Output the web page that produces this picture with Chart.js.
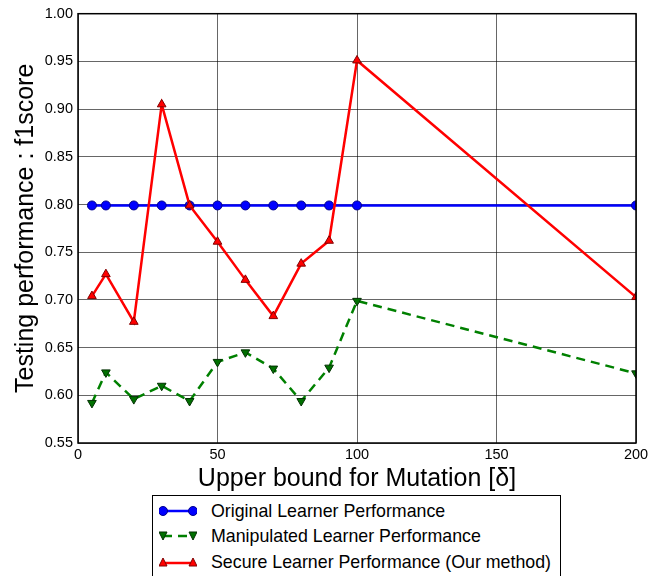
<!DOCTYPE html>
<html><head><meta charset="utf-8">
<script src="https://cdn.jsdelivr.net/npm/chart.js@4"></script>
<style>
html,body{margin:0;padding:0;background:#fff;}
#wrap{position:relative;width:662px;height:576px;overflow:hidden;}
#chart{position:absolute;left:0;top:0;}
#legend{position:absolute;left:152px;top:495px;width:409px;height:100px;border:1px solid #000;box-sizing:border-box;font-family:"Liberation Sans",Arial,sans-serif;font-size:17.8px;color:#000;background:#fff;}
.row{position:absolute;left:0;height:20px;display:flex;align-items:center;white-space:nowrap;}
.row svg{margin-left:6px;margin-right:14px;}
</style></head>
<body>
<div id="wrap">
<canvas id="chart" width="662" height="576"></canvas>
<div id="legend">
  <div class="row" style="top:5px">
    <svg width="38" height="16"><line x1="4" y1="8" x2="34" y2="8" stroke="#0000ff" stroke-width="2.5"/><circle cx="4" cy="8" r="4.5" fill="#0000ff" stroke="#00008b" stroke-width="1"/><circle cx="34" cy="8" r="4.5" fill="#0000ff" stroke="#00008b" stroke-width="1"/></svg>
    <span>Original Learner Performance</span>
  </div>
  <div class="row" style="top:30px">
    <svg width="38" height="16"><line x1="4" y1="8" x2="34" y2="8" stroke="#008000" stroke-width="2.5" stroke-dasharray="9,6"/><polygon points="0,4 8,4 4,12" fill="#007000" stroke="#003000" stroke-width="1"/><polygon points="30,4 38,4 34,12" fill="#007000" stroke="#003000" stroke-width="1"/></svg>
    <span>Manipulated Learner Performance</span>
  </div>
  <div class="row" style="top:56px">
    <svg width="38" height="16"><line x1="4" y1="9" x2="34" y2="9" stroke="#ff0000" stroke-width="2.5"/><polygon points="0,12 8,12 4,4" fill="#ff0000" stroke="#800000" stroke-width="1"/><polygon points="30,12 38,12 34,4" fill="#ff0000" stroke="#800000" stroke-width="1"/></svg>
    <span>Secure Learner Performance (Our method)</span>
  </div>
</div>
</div>
<script>
const xValues = [5, 10, 20, 30, 40, 50, 60, 70, 80, 90, 100, 200];
const original = [0.799, 0.799, 0.799, 0.799, 0.799, 0.799, 0.799, 0.799, 0.799, 0.799, 0.799, 0.799];
const manipulated = [0.592, 0.624, 0.596, 0.610, 0.594, 0.635, 0.645, 0.628, 0.594, 0.629, 0.699, 0.623];
const secure = [0.704, 0.727, 0.677, 0.905, 0.799, 0.761, 0.721, 0.683, 0.738, 0.762, 0.951, 0.703];
const xTicksStep = 50;
const yTicksStep = 0.05;

const toPts = arr => arr.map((v, i) => ({x: xValues[i], y: v}));
const FONT = '"Liberation Sans", Arial, sans-serif';

const framePlugin = {
  id: 'frame',
  afterDatasetsDraw(chart) {
    const {ctx, chartArea: a} = chart;
    ctx.save();
    ctx.strokeStyle = '#000';
    ctx.lineWidth = 1.5;
    ctx.strokeRect(a.left, a.top, a.right - a.left, a.bottom - a.top);
    ctx.restore();
  }
};

new Chart(document.getElementById('chart'), {
  type: 'line',
  data: {
    datasets: [
      {label: 'Original Learner Performance', data: toPts(original), borderColor: '#0000ff', backgroundColor: '#0000ff',
       borderWidth: 2.5, pointStyle: 'circle', pointRadius: 4.5, pointBorderColor: '#00008b', pointBorderWidth: 1, order: 3},
      {label: 'Manipulated Learner Performance', data: toPts(manipulated), borderColor: '#008000', backgroundColor: '#007000',
       borderWidth: 2.5, borderDash: [9, 6], pointStyle: 'triangle', rotation: 180, pointRadius: 5, pointBorderColor: '#003000', pointBorderWidth: 1, order: 2},
      {label: 'Secure Learner Performance (Our method)', data: toPts(secure), borderColor: '#ff0000', backgroundColor: '#ff0000',
       borderWidth: 2.5, pointStyle: 'triangle', pointRadius: 5, pointBorderColor: '#800000', pointBorderWidth: 1, order: 1}
    ]
  },
  options: {
    responsive: false,
    animation: false,
    devicePixelRatio: 1,
    layout: {padding: {top: 12, right: 26, bottom: 81, left: 0}},
    plugins: {legend: {display: false}, tooltip: {enabled: false}},
    elements: {line: {tension: 0}},
    scales: {
      x: {
        type: 'linear', min: 0, max: 200,
        ticks: {stepSize: xTicksStep, font: {family: FONT, size: 14.5}, color: '#000', padding: 3, maxRotation: 0},
        grid: {color: 'rgba(0,0,0,0.6)', lineWidth: 1, drawTicks: false},
        border: {display: false},
        title: {display: true, text: 'Upper bound for Mutation [δ]', font: {family: FONT, size: 25}, color: '#000', padding: {top: 0, bottom: 1}},
        afterFit(s) { s.height = 52; }
      },
      y: {
        min: 0.55, max: 1.0,
        ticks: {stepSize: yTicksStep, font: {family: FONT, size: 14.5}, color: '#000', padding: 5, callback: v => Number(v).toFixed(2)},
        grid: {color: 'rgba(0,0,0,0.6)', lineWidth: 1, drawTicks: false},
        border: {display: false},
        title: {display: true, text: 'Testing performance : f1score', font: {family: FONT, size: 25}, color: '#000', padding: {top: 11, bottom: 0}},
        afterFit(s) { s.width = 78; }
      }
    }
  },
  plugins: [framePlugin]
});
</script>
</body></html>
